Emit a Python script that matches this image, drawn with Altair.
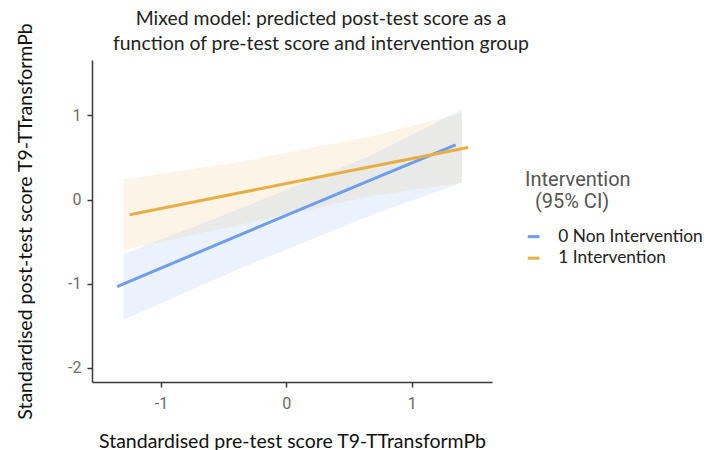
import altair as alt
import pandas as pd

groups = ["0 Non Intervention", "1 Intervention"]
colors = ["#6d9eeb", "#e8ae43"]

# predicted lines
line0_x = [-1.35, -0.37, 0.67, 1.35]
line0_y = [-1.035, -0.42, 0.23, 0.65]
line1_x = [-1.25, -0.37, 0.67, 1.45]
line1_y = [-0.18, 0.08, 0.39, 0.62]

# 95% CI bands
band_x = [-1.30, -0.37, 0.67, 1.40]
band0_lo = [-1.43, -0.82, -0.19, 0.20]
band0_hi = [-0.65, -0.11, 0.52, 1.07]
band1_lo = [-0.60, -0.30, 0.04, 0.20]
band1_hi = [0.24, 0.45, 0.75, 1.03]

x_ticks = [-1, 0, 1]
y_ticks = [-2, -1, 0, 1]

lines = pd.DataFrame({
    "x": line0_x + line1_x,
    "y": line0_y + line1_y,
    "group": [groups[0]] * len(line0_x) + [groups[1]] * len(line1_x),
})
band0 = pd.DataFrame({"x": band_x, "lo": band0_lo, "hi": band0_hi})
band1 = pd.DataFrame({"x": band_x, "lo": band1_lo, "hi": band1_hi})

xscale = alt.Scale(domain=[-1.55, 1.64], nice=False, zero=False)
yscale = alt.Scale(domain=[-2.17, 1.66], nice=False, zero=False)


def band(df, col):
    return alt.Chart(df).mark_area(color=col, opacity=0.13).encode(
        x=alt.X("x:Q", scale=xscale),
        y=alt.Y("lo:Q", scale=yscale),
        y2="hi:Q",
    )


line_layer = alt.Chart(lines).mark_line(strokeWidth=3).encode(
    x=alt.X("x:Q", scale=xscale,
            axis=alt.Axis(values=x_ticks, labelExpr="datum.value + ''",
                          title="Standardised pre-test score T9-TTransformPb")),
    y=alt.Y("y:Q", scale=yscale,
            axis=alt.Axis(values=y_ticks, labelExpr="datum.value + ''",
                          title="Standardised post-test score T9-TTransformPb")),
    color=alt.Color("group:N", scale=alt.Scale(domain=groups, range=colors),
                    legend=alt.Legend(title=["Intervention", "\u200b\u00a0\u00a0(95% CI)"],
                                      orient="none", legendX=433, legendY=110)),
)

chart = alt.layer(band(band1, colors[1]), band(band0, colors[0]), line_layer).properties(
    width=400,
    height=322,
    autosize=alt.AutoSizeParams(type="none"),
    padding={"left": 84, "top": 52, "right": 215, "bottom": 72},
    title=alt.TitleParams(
        text=["Mixed model: predicted post-test score as a",
              "function of pre-test score and intervention group"],
        anchor="middle", dx=29, dy=16, font="Lato", fontSize=19.4, fontWeight="normal",
        color="#222222", lineHeight=25, offset=-16,
    ),
).configure_view(stroke=None).configure_axis(
    grid=False,
    domainColor="#3a3a3a",
    domainWidth=1.5,
    tickColor="#3a3a3a",
    tickWidth=1.5,
    tickSize=5,
    labelFont="Roboto",
    labelFontSize=16,
    labelColor="#6b6b6b",
    labelPadding=6,
    titleFont="Lato",
    titleFontSize=19.5,
    titleFontWeight="normal",
    titleColor="#111111",
).configure_axisY(titlePadding=32).configure_axisX(titlePadding=21, labelPadding=8).configure_legend(
    titleFont="Roboto",
    titleFontSize=20,
    titleFontWeight="normal",
    titleColor="#555555",
    titleLineHeight=22,
    titlePadding=16,
    labelFont="Lato",
    labelFontSize=17.3,
    labelColor="#222222",
    labelOffset=16,
    symbolType="stroke",
    symbolStrokeWidth=3,
    symbolSize=140,
    rowPadding=3.5,
)

chart.save("out.html", embed_options={"renderer": "svg", "actions": False})
